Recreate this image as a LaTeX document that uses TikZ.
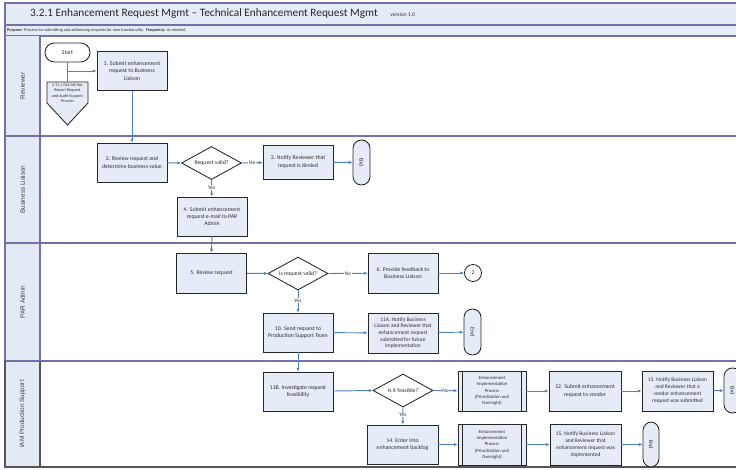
\documentclass[tikz,border=0pt]{standalone}
\usepackage{fontspec}
\setmainfont{Carlito}
\newfontfamily\lanefont{Liberation Sans}
\usetikzlibrary{arrows.meta,shapes.geometric}
\definecolor{bandfill}{HTML}{E6ECF7}
\definecolor{lanefill}{HTML}{E3EAF5}
\definecolor{boxfill}{HTML}{E6ECF7}
\definecolor{laneline}{HTML}{7272A8}
\definecolor{darkline}{HTML}{555555}
\definecolor{flow}{HTML}{4F81BD}
\definecolor{txt}{HTML}{2E2E2E}
\tikzset{
  x=1bp, y=-1bp,
  boxtxt/.style={font=\fontsize{5.8}{7.5}\selectfont, text=txt, align=center, inner sep=1bp},
  taskbox/.style={boxtxt, draw=black!85, line width=0.85bp, fill=boxfill,
                  minimum width=70bp, minimum height=39bp},
  subproc/.style={taskbox, minimum width=68bp, minimum height=40bp,
                  font=\fontsize{4.7}{6.3}\selectfont},
  decision/.style={boxtxt, diamond, draw=black!85, line width=0.85bp, fill=white,
                   minimum width=60bp, minimum height=33bp, aspect=1.8, inner sep=0pt},
  terminal/.style={boxtxt, draw=black!85, line width=0.85bp, fill=boxfill,
                   rounded corners=8.4bp, minimum width=17bp, minimum height=45bp},
  startbox/.style={boxtxt, draw=black!85, line width=0.85bp, fill=white,
                   rounded corners=9.4bp, minimum width=45bp, minimum height=19bp},
  connector/.style={boxtxt, circle, draw=black!85, line width=0.85bp, fill=white,
                    minimum size=17bp, inner sep=0pt},
  arr/.style={draw=flow, line width=0.95bp, -{Latex[length=3.8bp,width=3.4bp]}},
  plain/.style={draw=flow, line width=0.95bp},
  lbl/.style={font=\fontsize{5.4}{6}\selectfont, text=txt, fill=white, inner sep=0.6bp},
  lanelbl/.style={font=\lanefont\fontsize{6.4}{7.5}\selectfont, text=black!75, rotate=90},
}
\begin{document}
\begin{tikzpicture}
\useasboundingbox (0,0) rectangle (736,470);
\fill[white] (0,0) rectangle (736,470);

% ---- header bands ----
\draw[laneline, line width=1.3bp, fill=bandfill] (5,3) rectangle (740,25);
\draw[laneline, line width=1.3bp, fill=bandfill] (5,25) rectangle (740,36);
\node[anchor=west, inner sep=0, font=\fontsize{11.35}{13}\selectfont, text=black!85] (title) at (30,14)
  {3.2.1 Enhancement Request Mgmt -- Technical Enhancement Request Mgmt};
\node[anchor=base west, inner sep=0, font=\fontsize{5.6}{6}\selectfont, text=black!80] (version)
  at ([xshift=12bp]title.base east) {version 1.0};
\node[anchor=west, inner sep=0, font=\fontsize{4.3}{5}\selectfont, text=black!80] (purpose) at (7,30.6)
  {\textbf{Purpose}: Process for submitting and addressing requests for new functionality.\ \ \textbf{Frequency:} As needed.};

% ---- swim lanes ----
\fill[lanefill] (5,36) rectangle (40,467);
\draw[laneline, line width=1.3bp] (5,36) -- (5,361);
\draw[laneline, line width=1.3bp] (40,36) -- (40,361);
\draw[laneline, line width=1.3bp] (5,136) -- (740,136);
\draw[laneline, line width=1.3bp] (5,243) -- (740,243);
\draw[laneline, line width=1.3bp] (5,361) -- (740,361);
\draw[darkline, line width=1.4bp] (5,361) -- (5,467) -- (740,467);
\draw[darkline, line width=1.4bp] (40,361) -- (40,467);
\node[lanelbl] (lane1) at (22.5,86) {Reviewer};
\node[lanelbl] (lane2) at (22.5,189.5) {Business Liaison};
\node[lanelbl] (lane3) at (22.5,302) {PAR Admin};
\node[lanelbl] (lane4) at (22.5,414) {IAM Production Support};

% ---- Reviewer lane ----
\node[startbox] (start) at (67.5,52.5) {Start};
\draw[draw=black!85, line width=0.85bp, fill=boxfill]
  (47,82) -- (88,82) -- (88,103) -- (67.5,125) -- (47,103) -- cycle;
\node[boxtxt, font=\fontsize{4.2}{5.5}\selectfont, minimum width=41bp, minimum height=21bp] (offp) at (67.5,93)
  {2.11.1 OIA Ad-Hoc\\Report Request\\and Audit Support\\Process};
\node[taskbox] (b1) at (132,71) {1. Submit enhancement\\request to Business\\Liaison};

% ---- Business Liaison lane ----
\node[taskbox] (b2) at (132,162.5) {2. Review request and\\determine business value};
\node[decision] (d1) at (211.5,163) {Request valid?};
\node[taskbox, minimum height=34bp] (b3) at (298,162) {3. Notify Reviewer that\\request is denied};
\node[terminal] (e1) at (361.5,162.5) {\rotatebox{-90}{End}};
\node[taskbox] (b4) at (212,216.5) {4. Submit enhancement\\request e-mail to PAR\\Admin};

% ---- PAR Admin lane ----
\node[taskbox, minimum height=40bp] (b5) at (211.5,273) {5. Review request};
\node[decision] (d2) at (298,273.5) {Is request valid?};
\node[taskbox, minimum height=40bp] (b6) at (403,273) {6. Provide feedback to\\Business Liaison};
\node[connector] (c2) at (473,273) {2};
\node[taskbox] (b10) at (298,332.5) {10. Send request to\\Production Support Team};
\node[taskbox, minimum height=40bp, font=\fontsize{5.5}{6.7}\selectfont] (b11a) at (403,333)
  {11A. Notify Business\\Liaison and Reviewer that\\enhancement request\\submitted for future\\implementation};
\node[terminal, minimum height=46bp] (e2) at (472.5,332) {\rotatebox{-90}{End}};

% ---- IAM Production Support lane ----
\node[taskbox] (b11b) at (298,391.5) {11B. Investigate request\\feasibility};
\node[decision] (d3) at (403,390.5) {Is it feasible?};
\node[subproc] (sp1) at (492,391) {Enhancement\\Implementation\\Process\\(Prioritization and\\Oversight)};
\draw[black!85, line width=0.85bp] ([xshift=5bp]sp1.north west) -- ([xshift=5bp]sp1.south west)
  ([xshift=-5bp]sp1.north east) -- ([xshift=-5bp]sp1.south east);
\node[taskbox, minimum width=72bp, minimum height=40bp] (b12) at (585,391) {12. Submit enhancement\\request to vendor};
\node[taskbox, minimum width=71bp, minimum height=40bp, font=\fontsize{5.5}{7}\selectfont] (b13) at (677.5,391)
  {13. Notify Business Liaison\\and Reviewer that a\\vendor enhancement\\request was submitted};
\node[terminal] (e3) at (732.5,390.5) {\rotatebox{-90}{End}};
\node[taskbox, minimum width=71bp] (b14) at (402.5,444.5) {14. Enter into\\enhancement backlog};
\node[subproc, minimum height=41bp] (sp2) at (492,444.5) {Enhancement\\Implementation\\Process\\(Prioritization and\\Oversight)};
\draw[black!85, line width=0.85bp] ([xshift=5bp]sp2.north west) -- ([xshift=5bp]sp2.south west)
  ([xshift=-5bp]sp2.north east) -- ([xshift=-5bp]sp2.south east);
\node[taskbox, minimum width=71bp, minimum height=41bp, font=\fontsize{5.5}{7}\selectfont] (b15) at (585.5,444.5)
  {15. Notify Business Liaison\\and Reviewer that\\enhancement request was\\implemented};
\node[terminal, minimum width=16bp] (e4) at (651,444.5) {\rotatebox{-90}{End}};

% ---- connectors ----
\coordinate (j1) at (67.5,71);
\draw[plain] (start) -- (offp.north);
\draw[arr] (j1) -- (b1);
\draw[arr] (b1) -- (b2);
\draw[arr] (b2) -- (d1.west);
\draw[arr] (d1.east) -- node[lbl] {No} (b3);
\draw[arr] (b3) -- (e1);
\draw[arr] (d1.south) -- node[lbl, pos=0.45] {Yes} (b4);
\draw[arr] (b4.south) -- (b5.north);
\draw[arr] (b5) -- (d2.west);
\draw[arr] (d2.east) -- node[lbl] {No} (b6);
\draw[arr] (b6) -- (c2);
\draw[arr] (d2.south) -- node[lbl, pos=0.45] {Yes} (b10);
\draw[arr] (b10) -- (b11a);
\draw[arr] (b11a) -- (e2);
\draw[arr] (b10) -- (b11b);
\draw[arr] (b11b) -- (d3.west);
\draw[arr] (d3.east) -- node[lbl] {No} (sp1);
\draw[arr] (sp1) -- (b12);
\draw[arr] (b12) -- (b13);
\draw[arr] (b13) -- (e3);
\draw[arr] (d3.south) -- node[lbl, pos=0.45] {Yes} (b14);
\draw[arr] (b14) -- (sp2);
\draw[arr] (sp2) -- (b15);
\draw[arr] (b15) -- (e4);
\end{tikzpicture}
\end{document}
